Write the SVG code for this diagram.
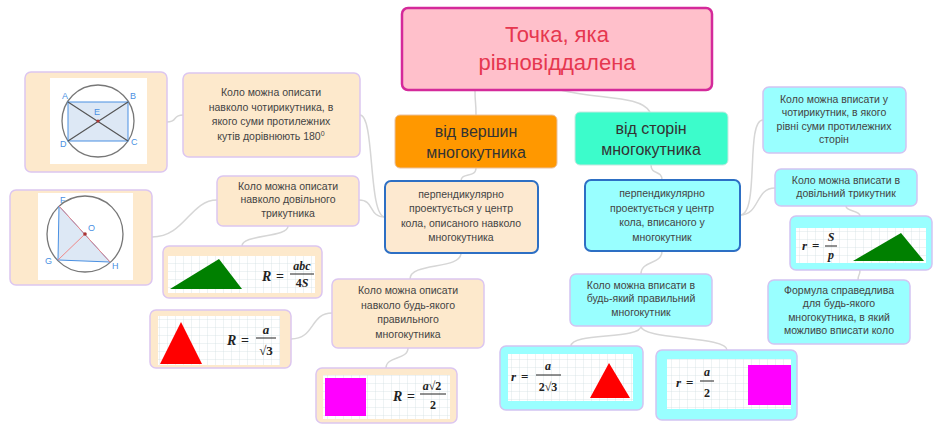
<svg xmlns="http://www.w3.org/2000/svg" width="940" height="429" viewBox="0 0 940 429">
<defs>
<pattern id="grid" width="8" height="8" patternUnits="userSpaceOnUse"><rect width="8" height="8" fill="#fff"/><path d="M8 0V8H0" fill="none" stroke="#cfdde0" stroke-width="0.7"/></pattern>
</defs>
<style>
.pe{fill:#fde9cc;stroke:#dcc6f0;stroke-width:1.5}
.cy{fill:#99ffff;stroke:#d2c4f2;stroke-width:1.5}
.t{font-family:"Liberation Sans",Arial,sans-serif;font-size:10.5px;fill:#444;text-anchor:middle}
.h{font-family:"Liberation Sans",Arial,sans-serif;font-size:16px;fill:#333;text-anchor:middle}
.f{font-family:"Liberation Serif","Times New Roman",serif;font-weight:bold;font-style:italic;fill:#222}
.fn{font-family:"Liberation Serif","Times New Roman",serif;font-weight:bold;fill:#222}
.c{fill:none;stroke:#d6d6d6;stroke-width:1.5}
.lb{font-family:"Liberation Sans",Arial,sans-serif;font-size:9px;fill:#4a90e2}
</style>
<g id="connectors">
<path class="c" d="M475 90C475 105 476 100 476 115"/>
<path class="c" d="M560 90C600 100 640 95 650 112"/>
<path class="c" d="M476 168C476 178 461 172 461 181"/>
<path class="c" d="M651 165C651 175 662 170 662 180"/>
<path class="c" d="M385 217C368 217 375 115 360 115"/>
<path class="c" d="M385 217C368 217 375 200 359 200"/>
<path class="c" d="M461 253C461 270 410 262 410 279"/>
<path class="c" d="M183 115C172 115 178 122 167 122"/>
<path class="c" d="M217 200C190 200 185 237 152 237"/>
<path class="c" d="M288 226C288 238 242 234 242 246"/>
<path class="c" d="M332 313C310 313 315 339 291 339"/>
<path class="c" d="M408 348C408 360 386 356 386 368"/>
<path class="c" d="M740 215C760 215 745 120 763 120"/>
<path class="c" d="M740 215C760 215 755 188 775 188"/>
<path class="c" d="M846 206C846 212 860 210 860 216"/>
<path class="c" d="M860 270C860 276 858 274 858 280"/>
<path class="c" d="M662 251C662 265 641 260 641 274"/>
<path class="c" d="M641 326C641 340 571 332 571 346"/>
<path class="c" d="M641 326C641 340 727 336 727 350"/>
</g>
<g id="title"><rect x="402" y="8" width="310" height="82" rx="6" fill="#ffc0cb" stroke="#d42a9a" stroke-width="2.5"/>
<text x="557" y="42" font-family="Liberation Sans,Arial,sans-serif" font-size="22" fill="#e6374f" text-anchor="middle">Точка, яка</text>
<text x="557" y="70" font-family="Liberation Sans,Arial,sans-serif" font-size="22" fill="#e6374f" text-anchor="middle">рівновіддалена</text></g>
<g id="vertices"><rect x="395" y="115" width="162" height="53" rx="5" fill="#ff9800" stroke="#e8c0a0"/>
<text class="h" x="476" y="137">від вершин</text><text class="h" x="476" y="158">многокутника</text></g>
<g id="sides"><rect x="575" y="112" width="153" height="53" rx="5" fill="#3cfccb" stroke="#c6e8e0"/>
<text class="h" x="651" y="134">від сторін</text><text class="h" x="651" y="155">многокутника</text></g>
<g id="circumcenter"><rect x="385" y="181" width="153" height="72" rx="6" fill="#fde9d0" stroke="#2d6fc4" stroke-width="2"/>
<text class="t" x="461" y="198">перпендикулярно</text><text class="t" x="461" y="212">проектується у центр</text><text class="t" x="461" y="227">кола, описаного навколо</text><text class="t" x="461" y="241">многокутника</text></g>
<g id="incenter"><rect x="585" y="180" width="155" height="71" rx="6" fill="#99ffff" stroke="#2d6fc4" stroke-width="2"/>
<text class="t" x="662" y="197">перпендикулярно</text><text class="t" x="662" y="212">проектується у центр</text><text class="t" x="662" y="226">кола, вписаного у</text><text class="t" x="662" y="241">многокутник</text></g>
<g id="quadimg"><rect class="pe" x="25" y="72" width="142" height="100" rx="6"/><rect x="50" y="78" width="97" height="86" fill="#fff"/>
<circle cx="98" cy="121" r="36" fill="none" stroke="#777" stroke-width="1.3"/>
<rect x="68" y="102" width="60" height="39" fill="#dde8f5" stroke="#4a90e2"/>
<path d="M68 102L128 141M128 102L68 141" stroke="#555" stroke-width="1.2"/>
<circle cx="98" cy="121" r="1.6" fill="#a33"/>
<text class="lb" x="62" y="99">A</text><text class="lb" x="130" y="99">B</text><text class="lb" x="60" y="147">D</text><text class="lb" x="131" y="145">C</text><text class="lb" x="94" y="115" fill="#888">E</text></g>
<g id="quadtext"><rect class="pe" x="183" y="73" width="177" height="84" rx="6"/>
<text class="t" x="271" y="96">Коло можна описати</text><text class="t" x="271" y="111">навколо чотирикутника, в</text><text class="t" x="271" y="125">якого суми протилежних</text><text class="t" x="271" y="140">кутів дорівнюють 180<tspan font-size="7" dy="-4">0</tspan></text></g>
<g id="triimg"><rect class="pe" x="10" y="190" width="142" height="95" rx="6"/><rect x="38" y="193" width="95" height="87" fill="#fff"/>
<circle cx="85" cy="234" r="38" fill="none" stroke="#777" stroke-width="1.3"/>
<path d="M59 206L58 260L110 262Z" fill="#dde8f5" stroke="#4a90e2"/>
<path d="M59 206L110 262M58 260L85 234" stroke="#e88" stroke-width="1"/>
<circle cx="85" cy="234" r="1.8" fill="#a33"/>
<text class="lb" x="60" y="203">F</text><text class="lb" x="88" y="231" fill="#e66">O</text><text class="lb" x="45" y="264">G</text><text class="lb" x="112" y="269">H</text></g>
<g id="tritext"><rect class="pe" x="217" y="176" width="142" height="50" rx="6"/>
<text class="t" x="288" y="190">Коло можна описати</text><text class="t" x="288" y="203">навколо довільного</text><text class="t" x="288" y="217">трикутника</text></g>
<g id="abc"><rect class="pe" x="163" y="246" width="159" height="52" rx="6"/><rect x="168" y="256" width="147" height="37" fill="url(#grid)"/>
<path d="M170 289L219 259L242 289Z" fill="#008000"/>
<text class="f" x="262" y="281" font-size="14">R</text><text class="fn" x="276" y="281" font-size="14">=</text>
<text class="f" x="302" y="270" font-size="12" text-anchor="middle">abc</text><line x1="290" y1="274" x2="314" y2="274" stroke="#222"/><text class="fn" x="302" y="287" font-size="12" text-anchor="middle"><tspan>4</tspan><tspan font-style="italic">S</tspan></text></g>
<g id="regtext"><rect class="pe" x="332" y="279" width="152" height="69" rx="6"/>
<text class="t" x="408" y="294">Коло можна описати</text><text class="t" x="408" y="309">навколо будь-якого</text><text class="t" x="408" y="323">правильного</text><text class="t" x="408" y="338">многокутника</text></g>
<g id="redtri"><rect class="pe" x="150" y="310" width="141" height="58" rx="6"/><rect x="158" y="316" width="122" height="49" fill="url(#grid)"/>
<path d="M160 364L181 322L202 364Z" fill="#ff0000"/>
<text class="f" x="227" y="345" font-size="14">R</text><text class="fn" x="241" y="345" font-size="14">=</text>
<text class="f" x="266" y="334" font-size="13" text-anchor="middle">a</text><line x1="256" y1="338" x2="276" y2="338" stroke="#222"/><text class="fn" x="266" y="355" font-size="13" text-anchor="middle">√3</text></g>
<g id="square"><rect class="pe" x="316" y="368" width="141" height="55" rx="6"/><rect x="323" y="375" width="127" height="44" fill="url(#grid)"/>
<rect x="325" y="378" width="41" height="38" fill="#ff00ff"/>
<text class="f" x="393" y="401" font-size="14">R</text><text class="fn" x="407" y="401" font-size="14">=</text>
<text class="f" x="432" y="390" font-size="12" text-anchor="middle">a<tspan font-style="normal">√2</tspan></text><line x1="420" y1="394" x2="446" y2="394" stroke="#222"/><text class="fn" x="433" y="409" font-size="12" text-anchor="middle">2</text></g>
<g id="inquad"><rect class="cy" x="763" y="87" width="143" height="66" rx="6"/>
<text class="t" x="834" y="103">Коло можна вписати у</text><text class="t" x="834" y="116">чотирикутник, в якого</text><text class="t" x="834" y="130">рівні суми протилежних</text><text class="t" x="834" y="143">сторін</text></g>
<g id="intri"><rect class="cy" x="775" y="169" width="142" height="37" rx="6"/>
<text class="t" x="846" y="184">Коло можна вписати в</text><text class="t" x="846" y="197">довільний трикутник</text></g>
<g id="sp"><rect class="cy" x="790" y="216" width="142" height="54" rx="6"/><rect x="796" y="228" width="130" height="35" fill="url(#grid)"/>
<path d="M853 261L901 233L924 261Z" fill="#008000"/>
<text class="f" x="802" y="250" font-size="13">r</text><text class="fn" x="812" y="250" font-size="13">=</text>
<text class="f" x="831" y="241" font-size="12" text-anchor="middle">S</text><line x1="825" y1="246" x2="837" y2="246" stroke="#222"/><text class="f" x="831" y="259" font-size="12" text-anchor="middle">p</text></g>
<g id="formtext"><rect class="cy" x="768" y="280" width="142" height="64" rx="6"/>
<text class="t" x="839" y="294">Формула справедлива</text><text class="t" x="839" y="307">для будь-якого</text><text class="t" x="839" y="321">многокутника, в який</text><text class="t" x="839" y="334">можливо вписати коло</text></g>
<g id="inreg"><rect class="cy" x="570" y="274" width="142" height="52" rx="6"/>
<text class="t" x="641" y="289">Коло можна вписати в</text><text class="t" x="641" y="302">будь-який правильний</text><text class="t" x="641" y="316">многокутник</text></g>
<g id="r23"><rect class="cy" x="500" y="346" width="143" height="64" rx="6"/><rect x="508" y="354" width="125" height="47" fill="url(#grid)"/>
<path d="M590 398L609 363L630 398Z" fill="#ff0000"/>
<text class="f" x="511" y="381" font-size="13">r</text><text class="fn" x="521" y="381" font-size="13">=</text>
<text class="f" x="548" y="370" font-size="12" text-anchor="middle">a</text><line x1="536" y1="375" x2="561" y2="375" stroke="#222"/><text class="fn" x="548" y="391" font-size="12" text-anchor="middle">2√3</text></g>
<g id="r2"><rect class="cy" x="656" y="350" width="141" height="70" rx="6"/><rect x="667" y="359" width="124" height="50" fill="url(#grid)"/>
<rect x="748" y="365" width="43" height="40" fill="#ff00ff"/>
<text class="f" x="676" y="387" font-size="13">r</text><text class="fn" x="686" y="387" font-size="13">=</text>
<text class="f" x="707" y="376" font-size="12" text-anchor="middle">a</text><line x1="700" y1="381" x2="714" y2="381" stroke="#222"/><text class="fn" x="707" y="397" font-size="12" text-anchor="middle">2</text></g>
</svg>
